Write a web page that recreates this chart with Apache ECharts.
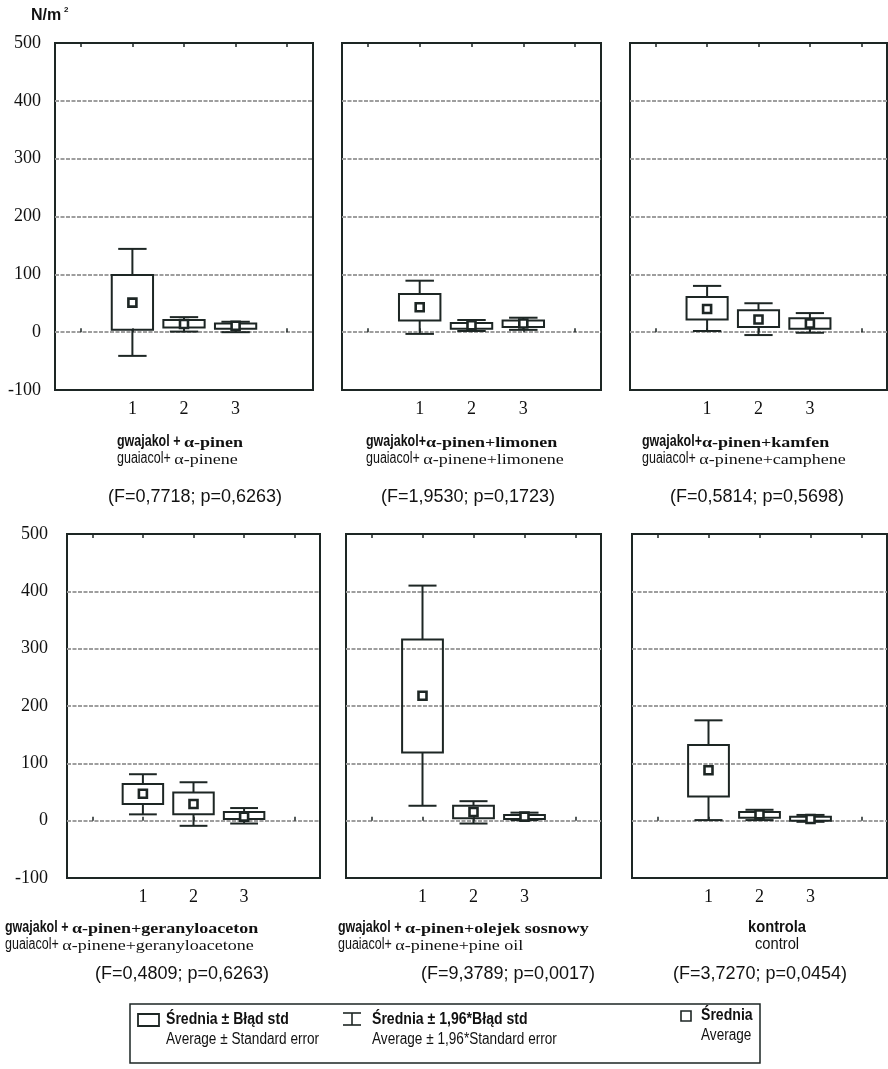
<!DOCTYPE html>
<html><head><meta charset="utf-8">
<script src="https://cdn.jsdelivr.net/npm/echarts@6/dist/echarts.min.js"></script>
<style>html,body{margin:0;padding:0;background:#fff}#c{width:888px;height:1069px}</style>
</head><body><div id="c"></div>
<script>
// ---------------- DATA ----------------
const categories = ['', '1', '2', '3', ''];
const groups = ['1', '2', '3'];
const yMin = -100, yMax = 500, yStep = 100;
// each group: [mean-1.96*SE, mean-SE, mean, mean+SE, mean+1.96*SE]  (N/m2)
const panel1 = [[-41, 4, 51, 99, 144], [1, 8, 14, 21, 26], [0, 6, 11, 15, 18]];
const panel2 = [[-3, 20, 43, 66, 89], [2, 6, 12, 16, 21], [4, 9, 15, 20, 25]];
const panel3 = [[2, 22, 40, 61, 80], [-5, 9, 22, 38, 50], [-1, 6, 15, 24, 33]];
const panel4 = [[11, 29, 47, 64, 81], [-9, 11, 29, 49, 67], [-5, 3, 7, 15, 22]];
const panel5 = [[26, 119, 218, 316, 410], [-5, 4, 15, 26, 34], [1, 3, 7, 10, 14]];
const panel6 = [[1, 42, 88, 132, 175], [1, 5, 11, 15, 19], [-2, 0, 3, 7, 10]];
// title parts: [sans part, serif part]
const titlesPL = [
  ['gwajakol + ', 'α-pinen'],
  ['gwajakol+', 'α-pinen+limonen'],
  ['gwajakol+', 'α-pinen+kamfen'],
  ['gwajakol + ', 'α-pinen+geranyloaceton'],
  ['gwajakol + ', 'α-pinen+olejek sosnowy'],
  ['kontrola', '']
];
const titlesEN = [
  ['guaiacol+ ', 'α-pinene'],
  ['guaiacol+ ', 'α-pinene+limonene'],
  ['guaiacol+ ', 'α-pinene+camphene'],
  ['guaiacol+ ', 'α-pinene+geranyloacetone'],
  ['guaiacol+ ', 'α-pinene+pine oil'],
  ['control', '']
];
const statsText = [
  '(F=0,7718; p=0,6263)', '(F=1,9530; p=0,1723)', '(F=0,5814; p=0,5698)',
  '(F=0,4809; p=0,6263)', '(F=9,3789; p=0,0017)', '(F=3,7270; p=0,0454)'
];
const unitLabel = 'N/m';
const unitSup = '2';
const legendPL = ['Średnia ± Błąd std', 'Średnia ± 1,96*Błąd std', 'Średnia'];
const legendEN = ['Average ± Standard error', 'Average ± 1,96*Standard error', 'Average'];
const panels = [panel1, panel2, panel3, panel4, panel5, panel6];

// ---------------- LAYOUT ----------------
const DARK = '#1d2624';
const layout = [
  {left: 55, top: 43, width: 258, height: 347, yLabels: true, lblMargin: 14},
  {left: 342, top: 43, width: 259, height: 347},
  {left: 630, top: 43, width: 257, height: 347},
  {left: 67, top: 534, width: 253, height: 344, yLabels: true, lblMargin: 19},
  {left: 346, top: 534, width: 255, height: 344},
  {left: 632, top: 534, width: 255, height: 344}
];
const titlePos = [
  {x: 117, y: 442, fx: 195, fy: 497},
  {x: 366, y: 442, fx: 468, fy: 497},
  {x: 642, y: 442, fx: 757, fy: 497},
  {x: 5, y: 928, fx: 182, fy: 974},
  {x: 338, y: 928, fx: 508, fy: 974},
  {x: 777, y: 928, fx: 760, fy: 974, center: true}
];

const serif = "'Liberation Serif', 'Times New Roman', serif";
const sans = "'Liberation Sans', Arial, sans-serif";
const SANS_SX = 0.78, SERIF_SX = 1.2;
const fSansB = "bold 16px " + sans, fSans = "16px " + sans;
const fSerifB = "bold 15px " + serif, fSerif = "15px " + serif;

const mctx = document.createElement('canvas').getContext('2d');
function textW(t, font) { mctx.font = font; return mctx.measureText(t).width; }

const grid = [], xAxis = [], yAxis = [], series = [], graphic = [];

function addTwoPart(parts, x, y, bold, center) {
  const f1 = bold ? fSansB : fSans, f2 = bold ? fSerifB : fSerif;
  if (center) {
    graphic.push({type: 'text', x: x, y: y, scaleX: 0.92, style: {text: parts[0], font: f1, fill: '#111',
      align: 'center', verticalAlign: 'middle'}});
    return;
  }
  graphic.push({type: 'text', x: x, y: y, scaleX: SANS_SX, style: {text: parts[0], font: f1, fill: '#111',
    verticalAlign: 'middle'}});
  const w = textW(parts[0], f1) * SANS_SX;
  graphic.push({type: 'text', x: x + w, y: y + 1, scaleX: SERIF_SX, style: {text: parts[1], font: f2, fill: '#111',
    verticalAlign: 'middle'}});
}

layout.forEach((L, i) => {
  grid.push({left: L.left, top: L.top, width: L.width, height: L.height, show: true,
    borderColor: DARK, borderWidth: 2, backgroundColor: 'transparent', containLabel: false});
  const tickCommon = {show: true, inside: true, length: 4, alignWithLabel: true,
    lineStyle: {color: DARK, width: 1.5}, interval: 0};
  xAxis.push({type: 'category', gridIndex: i, data: categories, position: 'bottom',
    axisLine: {show: false}, axisTick: tickCommon,
    axisLabel: {interval: 0, margin: 10, fontFamily: serif, fontSize: 18, color: '#111'},
    splitLine: {show: false}});
  xAxis.push({type: 'category', gridIndex: i, data: categories, position: 'top',
    axisLine: {show: false}, axisTick: tickCommon, axisLabel: {show: false}, splitLine: {show: false}});
  yAxis.push({type: 'value', gridIndex: i, min: yMin, max: yMax, interval: yStep,
    axisLine: {show: false}, axisTick: {show: false},
    axisLabel: {show: !!L.yLabels, margin: L.lblMargin || 10, fontFamily: serif, fontSize: 18, color: '#111'},
    splitLine: {show: true, showMinLine: false, showMaxLine: false,
      lineStyle: {color: '#9e9e9e', width: 2, type: [4, 1.5]}}});
  const data = panels[i].map((v, k) => [categories.indexOf(groups[k])].concat(v));
  series.push({
    type: 'custom', xAxisIndex: i * 2, yAxisIndex: i, z: 10, data: data,
    encode: {x: 0, y: [1, 2, 3, 4, 5]},
    renderItem: function (params, api) {
      const x = api.value(0);
      const pLW = api.coord([x, api.value(1)]);
      const pLB = api.coord([x, api.value(2)]);
      const pM = api.coord([x, api.value(3)]);
      const pHB = api.coord([x, api.value(4)]);
      const pHW = api.coord([x, api.value(5)]);
      const bw = api.size([1, 0])[0];
      const boxW = bw * 0.8, capW = bw * 0.55;
      const cx = pM[0];
      const st = {stroke: DARK, lineWidth: 2, fill: null};
      const ms = 8;
      return {type: 'group', children: [
        {type: 'line', shape: {x1: cx, y1: pHB[1], x2: cx, y2: pHW[1]}, style: st},
        {type: 'line', shape: {x1: cx, y1: pLB[1], x2: cx, y2: pLW[1]}, style: st},
        {type: 'line', shape: {x1: cx - capW / 2, y1: pHW[1], x2: cx + capW / 2, y2: pHW[1]}, style: st},
        {type: 'line', shape: {x1: cx - capW / 2, y1: pLW[1], x2: cx + capW / 2, y2: pLW[1]}, style: st},
        {type: 'rect', shape: {x: cx - boxW / 2, y: pHB[1], width: boxW, height: pLB[1] - pHB[1]}, style: st},
        {type: 'rect', shape: {x: cx - ms / 2, y: pM[1] - ms / 2, width: ms, height: ms},
          style: {stroke: DARK, lineWidth: 2.6, fill: '#fff'}}
      ]};
    }
  });
  const T = titlePos[i];
  addTwoPart(titlesPL[i], T.x, T.y, true, T.center);
  addTwoPart(titlesEN[i], T.x, T.y + 17, false, T.center);
  graphic.push({type: 'text', x: T.fx, y: T.fy, style: {text: statsText[i], font: "18px " + sans,
    fill: '#111', align: 'center', verticalAlign: 'middle'}});
});

// unit label
graphic.push({type: 'text', x: 31, y: 16, style: {text: unitLabel, font: "bold 16px " + sans, fill: '#111', verticalAlign: 'middle'}});
graphic.push({type: 'text', x: 64, y: 10, style: {text: unitSup, font: "bold 8px " + sans, fill: '#111', verticalAlign: 'middle'}});

// legend box
const LG = {x: 130, y: 1004, w: 630, h: 59};
graphic.push({type: 'rect', shape: {x: LG.x, y: LG.y, width: LG.w, height: LG.h},
  style: {stroke: DARK, lineWidth: 1.5, fill: '#fff'}});
graphic.push({type: 'rect', shape: {x: 138, y: 1014, width: 21, height: 12}, style: {stroke: DARK, lineWidth: 1.8, fill: null}});
graphic.push({type: 'group', children: [
  {type: 'line', shape: {x1: 343, y1: 1013, x2: 361, y2: 1013}, style: {stroke: DARK, lineWidth: 1.6}},
  {type: 'line', shape: {x1: 343, y1: 1025, x2: 361, y2: 1025}, style: {stroke: DARK, lineWidth: 1.6}},
  {type: 'line', shape: {x1: 352, y1: 1013, x2: 352, y2: 1025}, style: {stroke: DARK, lineWidth: 1.6}}
]});
graphic.push({type: 'rect', shape: {x: 681, y: 1011, width: 10, height: 10}, style: {stroke: DARK, lineWidth: 1.6, fill: null}});
const legX = [166, 372, 701];
const legY = [1020, 1020, 1016];
legendPL.forEach((t, k) => {
  graphic.push({type: 'text', x: legX[k], y: legY[k], scaleX: 0.88, style: {text: t, font: "bold 16px " + sans, fill: '#111', verticalAlign: 'middle'}});
  graphic.push({type: 'text', x: legX[k], y: legY[k] + 20, scaleX: 0.85, style: {text: legendEN[k], font: "16px " + sans, fill: '#111', verticalAlign: 'middle'}});
});

const chart = echarts.init(document.getElementById('c'), null, {renderer: 'canvas'});
chart.setOption({animation: false, backgroundColor: '#fff', grid, xAxis, yAxis, series, graphic});
</script></body></html>
